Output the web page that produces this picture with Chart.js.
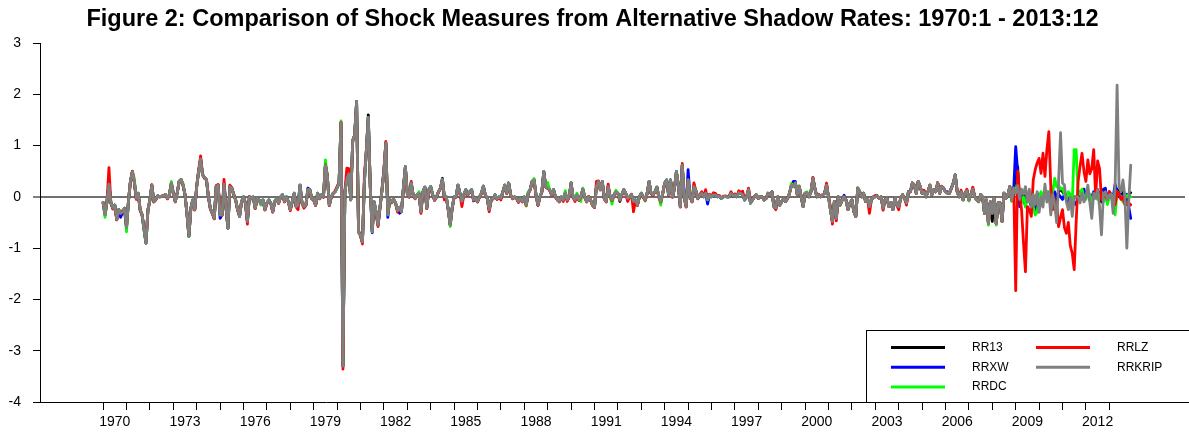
<!DOCTYPE html>
<html>
<head>
<meta charset="utf-8">
<script src="https://cdn.jsdelivr.net/npm/chart.js@4.4.1/dist/chart.umd.min.js"></script>
<style>
  html, body { margin: 0; padding: 0; background: #ffffff; }
  canvas { display: block; }
</style>
</head>
<body>
<canvas id="chart" width="1189" height="435"></canvas>
<script>
// Monthly shock measures, 1970:1 - 2013:12 (528 months each)
const FIRST_YEAR = 1970;
const LAST_YEAR = 2013;
const labelYears = [1970, 1973, 1976, 1979, 1982, 1985, 1988, 1991, 1994, 1997, 2000, 2003, 2006, 2009, 2012];
const yTicks = [-4, -3, -2, -1, 0, 1, 2, 3];

const RR13 = [
-0.11,-0.35,-0.09,0.25,-0.12,-0.22,-0.16,-0.44,-0.25,-0.32,-0.29,-0.22,
-0.6,-0.09,0.3,0.49,0.3,-0.03,0.07,-0.25,-0.35,-0.64,-0.9,-0.25,
-0.06,0.23,-0.09,-0.05,0.02,0,0.01,0.02,0.04,-0.03,0.04,0.27,0.07,
-0.09,0.07,0.3,0.34,0.23,0.04,-0.32,-0.77,-0.22,-0.06,-0.25,0.2,
0.5,0.74,0.43,0.38,0.33,0,-0.22,-0.32,-0.42,0.2,0.23,-0.35,
-0.35,0.25,-0.19,-0.61,0.2,0.17,0.04,-0.06,-0.25,-0.38,-0.09,0,
-0.12,-0.48,0,-0.03,0,-0.22,-0.03,-0.06,-0.14,-0.06,-0.25,-0.12,
-0.06,-0.12,-0.29,-0.09,-0.03,-0.12,0,0.04,-0.09,0,-0.09,-0.25,
-0.09,0.07,-0.19,-0.16,0.23,-0.12,-0.19,-0.16,0.14,0.14,-0.03,-0.06,
-0.16,0.07,-0.03,0.04,0,0.62,0.4,-0.16,0,0.07,0.1,0.18,
0.27,1.44,-3.3,0.1,0.35,0.45,-0.06,1.1,1.2,1.86,-0.68,-0.75,
-0.88,0.3,0.9,1.6,0.2,-0.68,-0.1,-0.3,-0.55,-0.2,0.12,0.5,
1.05,-0.35,-0.05,-0.1,-0.05,-0.12,-0.27,-0.2,-0.29,0.17,0.59,0.07,
0,0.27,0.04,-0.03,0.04,0.07,-0.29,0.1,0.19,-0.22,0.14,0.2,
0.04,-0.06,0,0.1,0.17,0.36,0,0,-0.25,-0.55,-0.22,0,
0,0.23,0.07,-0.09,0.04,0.14,0.04,0.1,0.14,-0.06,-0.03,-0.09,
0,0.07,0.21,0.04,-0.03,-0.25,-0.06,-0.03,0.04,-0.04,0,-0.03,
0.1,0.23,0.07,0.27,0.04,-0.03,0,-0.03,-0.09,-0.03,-0.09,0,
-0.16,0.07,0.14,0.3,0.33,0.04,-0.16,0,0.1,0.49,0.2,0.17,
0.14,0.04,0.14,0,-0.06,-0.09,0,-0.06,0.08,-0.06,0,0.27,
0,-0.06,0.04,-0.06,0,0.15,0,-0.09,0,-0.06,-0.16,-0.2,
0.2,0.3,0.14,0.3,-0.03,-0.09,0.2,0,-0.06,0.04,0.1,0.07,
-0.09,0.04,0.14,0.07,-0.03,0,0.04,-0.09,-0.06,-0.16,0,0.07,
0,-0.06,0.07,0.3,0.07,0.04,0.1,0.19,0,-0.09,0.07,0.27,
0.33,0.04,0.33,0,0.17,0.49,0.23,-0.19,0.62,0,-0.19,0.33,
0,-0.09,0.2,0.12,-0.03,0.04,0.07,0,0.07,-0.06,0.04,0,
0.04,0.04,0,0.02,-0.03,0,0.01,0,0,0.07,0.02,0.04,0,
0.08,0.07,0.04,-0.06,0,0.14,-0.12,-0.06,0,0.04,-0.03,0,
0,-0.06,-0.03,0.07,0.04,0.1,-0.19,-0.22,0,-0.16,-0.09,-0.03,
-0.09,-0.03,0.07,0.23,0.2,0.27,0.04,0.2,0,-0.19,0.07,0.07,
0,0.1,0.36,0.17,0,0.04,0,0.04,0.07,0.23,0,-0.25,
-0.48,-0.09,-0.42,0,-0.16,-0.06,0,-0.06,-0.25,-0.12,-0.06,-0.29,
-0.38,0.17,0.1,0,0.07,-0.09,-0.03,-0.19,-0.06,0,0,0.02,
-0.03,0,-0.22,-0.06,-0.03,-0.19,-0.12,-0.25,-0.03,-0.16,-0.19,-0.03,
0.04,-0.03,-0.12,0.1,0.1,0.27,0.23,0.07,0.3,0.2,0.07,0.1,
0,0.1,0.23,0.04,0.14,0.1,0.27,0.07,0.2,0.17,0.1,0.07,
0.07,0.17,0.27,0.43,0.1,0,0.1,-0.06,0.07,0.12,-0.06,0.04,
0.15,0,-0.06,-0.09,0.04,0,-0.32,-0.06,-0.51,-0.1,-0.48,-0.02,
-0.52,-0.12,-0.12,-0.48,0.07,-0.03,0.04,0.2,-0.06,0.17,0.3,0.59,
-0.1,0.1,0,0.1,-0.05,0.05,-0.1,0,-0.1,0.05,-0.1,0,
-0.05,0.1,0,0.05,-0.1,0,-0.05,-0.1,0.1,0.15,0.1,0.05,
-0.05,-0.1,0,-0.15,0,0,0,-0.05,0.05,-0.05,0,0.1,
-0.05,-0.15,0.05,0,0.14,0,-0.1,0.05,0.05,-0.05,0.05,0.05,
-0.1,0.1,0.15,0.1,0.05,0.1,0.03,-0.15,0.05,0.08
];

const RRXW = [
-0.11,-0.35,-0.09,0.25,-0.12,-0.22,-0.16,-0.44,-0.25,-0.4,-0.29,-0.22,
-0.6,-0.09,0.3,0.49,0.3,-0.03,0.07,-0.25,-0.35,-0.64,-0.9,-0.25,
-0.06,0.23,-0.09,-0.05,0.02,0,0.01,0.02,0.04,-0.03,0.04,0.27,0.07,
-0.09,0.07,0.3,0.34,0.23,0.04,-0.32,-0.77,-0.22,-0.06,-0.25,0.2,
0.5,0.74,0.43,0.38,0.33,0,-0.22,-0.32,-0.42,0.2,0.23,-0.42,
-0.35,0.25,-0.19,-0.61,0.2,0.17,0.04,-0.06,-0.25,-0.38,-0.09,0,
-0.12,-0.48,0,-0.03,0,-0.22,-0.03,-0.06,-0.14,-0.06,-0.25,-0.12,
-0.06,-0.12,-0.29,-0.09,-0.03,-0.12,0,0.04,-0.09,0,-0.09,-0.25,
-0.09,0.07,-0.19,-0.16,0.23,-0.12,-0.19,-0.16,0.17,0.14,-0.03,-0.06,
-0.16,0.07,-0.03,0.04,0,0.62,0.4,-0.16,0,0.07,0.1,0.18,
0.27,1.44,-3.3,0.1,0.35,0.45,-0.06,1.1,1.2,1.86,-0.68,-0.75,
-0.88,0.3,0.9,1.55,0.2,-0.7,-0.1,-0.3,-0.55,-0.2,0.12,0.5,
1.05,-0.4,-0.05,-0.1,-0.05,-0.12,-0.27,-0.32,-0.29,0.17,0.59,0.07,
0,0.27,0.04,-0.03,0.04,0.07,-0.29,0.1,0.19,-0.22,0.14,0.2,
0.04,-0.06,0,0.1,0.17,0.34,0,0,-0.25,-0.55,-0.22,0,
0,0.23,0.07,-0.09,0.04,0.14,0.04,0.1,0.14,-0.08,-0.03,-0.09,
0,0.07,0.21,0.04,-0.03,-0.25,-0.06,-0.03,0.04,-0.04,0,-0.03,
0.1,0.23,0.07,0.27,0.04,-0.03,0,-0.03,-0.09,-0.03,-0.09,0,
-0.16,0.07,0.14,0.3,0.33,0.04,-0.16,0,0.1,0.49,0.2,0.17,
0.14,0.04,0.14,0,-0.06,-0.09,0,-0.06,0.08,-0.06,0,0.27,
0,-0.06,0.04,-0.06,0,0.15,0,-0.09,0,-0.06,-0.16,-0.2,
0.2,0.3,0.14,0.3,-0.03,-0.09,0.2,0,-0.06,0.04,0.1,0.07,
-0.06,0.04,0.14,0.07,-0.03,0,0.04,-0.09,-0.06,-0.16,0,0.07,
0,-0.06,0.07,0.3,0.07,0.04,0.1,0.19,0,-0.09,0.07,0.27,
0.33,0.04,0.33,0,0.17,0.49,0.23,-0.19,0.62,0,-0.19,0.53,
0,-0.09,0.2,0.12,-0.03,0.04,0.07,0,0.07,-0.14,0.04,0,
0.04,0.04,0,0.02,-0.03,0,0.01,0,0,0.07,0.02,0.04,0,
0.08,0.07,0.04,-0.06,0,0.14,-0.12,-0.06,0,0.04,-0.03,0,
0,-0.06,-0.03,0.07,0.04,0.1,-0.19,-0.22,0,-0.16,-0.09,-0.03,
-0.09,-0.03,0.07,0.23,0.3,0.3,0.04,0.2,0,-0.19,0.07,0.07,
0,0.1,0.36,0.17,0,0.04,0,0.04,0.07,0.23,0,-0.25,
-0.48,-0.09,-0.42,0,-0.16,-0.06,0.03,-0.06,-0.25,-0.12,-0.06,-0.29,
-0.38,0.17,0.1,0,0.07,-0.09,-0.03,-0.19,-0.06,0,0,0.02,
-0.03,0,-0.22,-0.06,-0.03,-0.19,-0.12,-0.25,-0.03,-0.16,-0.19,-0.03,
0.04,-0.03,-0.12,0.1,0.1,0.27,0.23,0.07,0.3,0.2,0.07,0.1,
0,0.1,0.23,0.04,0.14,0.1,0.27,0.07,0.2,0.17,0.1,0.1,
0.07,0.17,0.27,0.43,0.1,0,0.1,-0.06,0.07,0.12,-0.06,0.04,
0.15,0,-0.06,-0.09,0.04,0,-0.32,-0.06,-0.51,-0.1,-0.32,-0.02,
-0.52,-0.12,-0.12,-0.48,0.07,-0.03,0.04,0.2,-0.06,0.17,0.98,0.5,
-0.19,0,-0.1,-0.15,0.05,-0.05,-0.2,0,-0.25,-0.05,0.05,-0.1,
0,0.05,0.1,0,-0.05,0,0.1,0,0.05,0,-0.05,0.05,
0,-0.1,-0.05,-0.1,-0.1,-0.15,0,0.1,0.05,0.15,0,0.05,
-0.05,0,0.1,0,0.1,0.05,0,0.15,0.17,-0.1,0.1,0.05,
0,0.25,0.1,0,0.05,-0.05,0,0.05,-0.2,-0.42
];

const RRDC = [
-0.11,-0.4,-0.09,0.25,-0.12,-0.22,-0.16,-0.44,-0.25,-0.32,-0.29,-0.22,
-0.68,-0.09,0.3,0.49,0.36,-0.03,0.07,-0.25,-0.35,-0.64,-0.9,-0.25,
-0.06,0.23,-0.09,-0.05,0.02,0,0.01,0.02,0.04,-0.03,0.04,0.3,0.07,
-0.09,0.07,0.3,0.34,0.26,0.04,-0.32,-0.77,-0.22,-0.06,-0.25,0.2,
0.5,0.74,0.43,0.38,0.33,0,-0.22,-0.32,-0.42,0.2,0.23,-0.35,
-0.35,0.25,-0.19,-0.61,0.2,0.17,0.04,-0.06,-0.25,-0.38,-0.09,0,
-0.12,-0.48,0,-0.03,0,-0.22,-0.03,-0.06,-0.16,-0.06,-0.25,-0.12,
-0.06,-0.12,-0.29,-0.09,-0.03,-0.12,0,0.04,-0.09,0,-0.09,-0.25,
-0.09,0.07,-0.19,-0.16,0.23,-0.12,-0.19,-0.16,0.14,0.14,-0.03,-0.06,
-0.16,0.07,-0.03,0.04,0,0.72,0.4,-0.16,0,0.07,0.1,0.18,
0.27,1.48,-3.3,0.1,0.35,0.45,-0.06,1.1,1.2,1.86,-0.7,-0.75,
-0.88,0.3,0.9,1.55,0.2,-0.68,-0.1,-0.3,-0.55,-0.2,0.12,0.5,
1.05,-0.35,-0.05,-0.12,-0.05,-0.12,-0.27,-0.2,-0.29,0.17,0.59,0.07,
0,0.27,0.04,-0.03,0.04,0.1,-0.29,0.1,0.19,-0.22,0.14,0.2,
0.04,-0.06,0,0.1,0.17,0.34,0,0,-0.25,-0.58,-0.22,0,
0,0.23,0.07,-0.09,0.04,0.14,0.04,0.1,0.14,-0.06,-0.03,-0.1,
0,0.07,0.21,0.04,-0.03,-0.25,-0.06,-0.03,0.04,-0.04,0,-0.03,
0.1,0.23,0.07,0.27,0.04,-0.03,0,-0.03,-0.09,-0.03,-0.09,0,
-0.18,0.1,0.14,0.3,0.36,0.04,-0.16,0,0.1,0.49,0.2,0.28,
0.14,0.04,0.14,0,-0.06,-0.09,0,-0.06,0.12,-0.06,0,0.27,
0,-0.06,0.07,-0.06,-0.09,0.17,0,-0.09,0,-0.06,-0.16,-0.2,
0.2,0.3,0.14,0.3,-0.03,-0.09,0.2,0,-0.14,0.04,0.13,0.07,
-0.06,0.04,0.14,0.07,-0.03,0,0.04,-0.09,-0.06,-0.16,0,0.07,
0,-0.08,0.07,0.3,0.07,0.06,0.1,0.19,0,-0.16,0.07,0.27,
0.33,0.04,0.33,0,0.17,0.49,0.23,-0.19,0.62,0,-0.19,0.33,
0,-0.09,0.25,0.12,-0.03,0.04,0.07,0,0.07,-0.06,0.04,0,
0.04,0.04,0,0.02,-0.03,0,0.01,0,0,0.07,0.04,0.04,0,
0.08,0.07,0.04,-0.06,0,0.14,-0.12,-0.06,0,0.04,-0.03,0,
0,-0.06,-0.03,0.07,0.04,0.1,-0.19,-0.22,0,-0.16,-0.09,-0.03,
-0.09,-0.03,0.07,0.26,0.2,0.27,0.04,0.22,0,-0.19,0.07,0.1,
0,0.1,0.36,0.17,0,0.04,0,0.04,0.07,0.23,0,-0.25,
-0.48,-0.09,-0.42,0,-0.16,-0.06,0,-0.09,-0.25,-0.12,-0.06,-0.29,
-0.38,0.18,0.1,0,0.07,-0.09,-0.03,-0.19,-0.06,0,0,0.02,
-0.03,0,-0.22,-0.06,-0.03,-0.19,-0.12,-0.25,-0.03,-0.16,-0.19,-0.03,
0.04,-0.03,-0.12,0.1,0.1,0.27,0.23,0.07,0.3,0.2,0.07,0.1,
0,0.1,0.23,0.04,0.14,0.1,0.27,0.07,0.2,0.17,0.1,0.07,
0.07,0.17,0.27,0.43,0.1,0,0.1,-0.06,0.07,0.12,-0.08,0.04,
0.15,0,-0.06,-0.1,0.04,0,-0.32,-0.06,-0.55,-0.1,-0.32,-0.02,
-0.55,-0.12,-0.12,-0.48,0.07,-0.03,0.04,0.2,-0.09,0.17,0.1,0.3,
0,-0.1,0,-0.2,0,-0.1,0.05,-0.2,-0.35,-0.3,0,0.1,
0,0.05,0.1,0,0.15,0.1,0.36,0.2,0.23,0.15,0.17,0.05,
-0.05,0.1,0.05,-0.1,0.92,0.92,0.1,0.05,0.15,0,-0.05,0.1,
0.05,-0.1,0,0.05,-0.05,0,0.1,-0.1,0.05,-0.15,0,0.05,
-0.1,-0.35,0.1,0.05,0,-0.1,0.05,0,0.05,0
];

const RRLZ = [
-0.12,-0.33,-0.08,0.57,-0.12,-0.24,-0.18,-0.45,-0.26,-0.3,-0.27,-0.3,
-0.58,-0.08,0.28,0.5,0.28,-0.05,0.06,-0.27,-0.36,-0.6,-0.88,-0.26,
-0.07,0.24,-0.1,-0.06,0.01,0,0.01,0.03,0.04,-0.04,0.05,0.26,0.08,
-0.1,0.08,0.3,0.33,0.22,0.05,-0.33,-0.75,-0.24,-0.07,-0.26,0.22,
0.52,0.8,0.45,0.36,0.34,0.01,-0.24,-0.33,-0.43,0.22,0.24,-0.33,
-0.36,0.34,-0.2,-0.6,0.23,0.18,0.05,-0.07,-0.27,-0.37,-0.1,-0.01,
-0.13,-0.53,0.01,-0.04,-0.01,-0.23,-0.04,-0.07,-0.13,-0.07,-0.26,-0.13,
-0.07,-0.13,-0.3,-0.1,-0.04,-0.13,-0.01,0.03,-0.1,-0.01,-0.1,-0.27,
-0.1,0.06,-0.2,-0.25,0.21,-0.13,-0.22,-0.17,0.13,0.13,-0.04,-0.07,
-0.17,0.06,-0.04,0.03,-0.01,0.63,0.41,-0.17,-0.01,0.06,0.12,0.2,
0.28,1.45,-3.36,0.12,0.56,0.55,-0.05,1.08,1.2,1.84,-0.66,-0.76,
-0.92,0.43,0.88,1.52,0.22,-0.66,-0.12,-0.32,-0.58,-0.22,0.14,0.52,
1.08,-0.33,-0.06,-0.11,-0.06,-0.13,-0.3,-0.21,-0.28,0.16,0.57,0.06,
-0.01,0.3,0.03,-0.04,0.03,0.06,-0.32,0.09,0.18,-0.23,0.13,0.19,
0.03,-0.07,-0.01,0.09,0.16,0.33,-0.06,-0.01,-0.26,-0.54,-0.23,-0.01,
-0.01,0.22,0.06,-0.19,0.03,0.13,0.03,0.09,0.13,-0.07,-0.04,-0.1,
-0.01,0.06,0.2,0.03,-0.04,-0.29,-0.07,-0.04,0.03,-0.05,-0.01,-0.06,
0.09,0.22,0.06,0.26,0.03,-0.04,-0.01,-0.04,-0.11,-0.04,-0.1,-0.01,
-0.17,0.06,0.13,0.29,0.32,0.03,-0.17,-0.01,0.09,0.48,0.19,0.16,
0.13,0.03,0.13,-0.01,-0.06,-0.1,-0.01,-0.09,0.07,-0.09,-0.01,0.26,
-0.01,-0.09,0.03,-0.07,-0.01,0.14,-0.01,-0.1,0.01,-0.07,-0.17,-0.21,
0.3,0.31,0.13,0.29,-0.04,-0.1,0.25,-0.01,-0.07,0.03,0.09,0.06,
-0.07,0.03,0.13,0.06,-0.09,-0.01,0.05,-0.29,-0.07,-0.17,-0.01,0.06,
-0.01,-0.07,0.06,0.29,0.06,0.03,0.09,0.18,-0.01,-0.1,0.06,0.26,
0.32,0.03,0.32,-0.01,0.16,0.48,0.22,-0.2,0.65,-0.01,-0.2,0.32,
-0.01,-0.1,0.27,0.11,-0.04,0.05,0.1,0.01,0.14,-0.05,0.05,0.01,
0.08,0.07,0.01,0.03,-0.02,0.01,0.02,0.01,0.01,0.1,0.03,0.06,0.01,
0.12,0.08,0.11,-0.05,0.01,0.17,-0.11,-0.05,0.01,0.03,-0.03,0,
0,-0.06,-0.03,0.07,0.04,0.1,-0.19,-0.25,0,-0.16,-0.09,-0.03,
-0.09,-0.03,0.07,0.23,0.2,0.27,0.04,0.2,0,-0.19,0.07,0.07,
0,0.1,0.38,0.17,0,0.05,0,0.04,0.07,0.27,0,-0.19,
-0.53,-0.09,-0.47,0,-0.16,-0.06,0,-0.06,-0.25,-0.12,-0.06,-0.29,
-0.38,0.17,0.1,0,0.07,-0.09,-0.03,-0.32,-0.06,0,0.03,0.02,
-0.03,0,-0.26,-0.06,-0.03,-0.19,-0.12,-0.25,-0.03,-0.16,-0.25,-0.03,
0.04,-0.03,-0.16,0.1,0.1,0.27,0.23,0.07,0.3,0.2,0.07,0.13,
0,0.1,0.23,0.04,0.14,0.1,0.28,0.07,0.21,0.17,0.1,0.07,
0.07,0.17,0.27,0.43,0.1,0,0.13,-0.06,0.07,0.15,-0.06,0.04,
0.19,0,-0.06,-0.09,0.04,0,-0.32,-0.06,-0.51,-0.1,-0.32,-0.02,
-0.52,-0.12,-0.12,-0.48,0.07,-0.03,0.04,0.2,-0.06,0.17,-1.83,0.5,
0.07,-0.25,-0.9,-1.46,-0.19,-0.25,-0.38,0.33,0.53,0.66,0.75,0.46,
0.85,0.4,0.92,1.27,0.2,-0.25,-0.06,-0.12,-0.58,-0.4,-0.25,-0.6,
-0.71,-0.5,-0.95,-1.1,-1.42,-0.5,0.3,0.6,0.85,0.5,0.3,0.72,
0.45,0.55,0.92,0,0.7,0.55,-0.05,0,0,-0.05,0.1,0,
-0.1,-0.15,0.1,0.05,-0.05,0,-0.15,-0.1,-0.12,-0.16
];

const RRKRIP = [
-0.11,-0.35,-0.09,0.25,-0.12,-0.22,-0.16,-0.44,-0.25,-0.32,-0.29,-0.22,
-0.6,-0.09,0.3,0.49,0.3,-0.03,0.07,-0.25,-0.35,-0.64,-0.9,-0.25,
-0.06,0.23,-0.09,-0.05,0.02,0,0.01,0.02,0.04,-0.03,0.04,0.27,0.07,
-0.09,0.07,0.3,0.34,0.23,0.04,-0.32,-0.77,-0.22,-0.06,-0.25,0.2,
0.5,0.74,0.43,0.38,0.33,0,-0.22,-0.32,-0.42,0.2,0.23,-0.35,
-0.35,0.25,-0.19,-0.61,0.2,0.17,0.04,-0.06,-0.25,-0.38,-0.09,0,
-0.12,-0.48,0,-0.03,0,-0.22,-0.03,-0.06,-0.14,-0.06,-0.25,-0.12,
-0.06,-0.12,-0.29,-0.09,-0.03,-0.12,0,0.04,-0.09,0,-0.09,-0.25,
-0.09,0.07,-0.19,-0.16,0.23,-0.12,-0.19,-0.16,0.14,0.14,-0.03,-0.06,
-0.16,0.07,-0.03,0.04,0,0.62,0.4,-0.16,0,0.07,0.1,0.18,
0.27,1.44,-3.3,0.1,0.35,0.45,-0.06,1.1,1.2,1.86,-0.68,-0.75,
-0.88,0.3,0.9,1.55,0.2,-0.68,-0.1,-0.3,-0.55,-0.2,0.12,0.5,
1.05,-0.35,-0.05,-0.1,-0.05,-0.12,-0.27,-0.2,-0.29,0.17,0.59,0.07,
0,0.27,0.04,-0.03,0.04,0.07,-0.29,0.1,0.19,-0.22,0.14,0.2,
0.04,-0.06,0,0.1,0.17,0.34,0,0,-0.25,-0.55,-0.22,0,
0,0.23,0.07,-0.09,0.04,0.14,0.04,0.1,0.14,-0.06,-0.03,-0.09,
0,0.07,0.21,0.04,-0.03,-0.25,-0.06,-0.03,0.04,-0.04,0,-0.03,
0.1,0.23,0.07,0.27,0.04,-0.03,0,-0.03,-0.09,-0.03,-0.09,0,
-0.16,0.07,0.14,0.3,0.33,0.04,-0.16,0,0.1,0.49,0.2,0.17,
0.14,0.04,0.14,0,-0.06,-0.09,0,-0.06,0.08,-0.06,0,0.27,
0,-0.06,0.04,-0.06,0,0.15,0,-0.09,0,-0.06,-0.16,-0.2,
0.2,0.3,0.14,0.3,-0.03,-0.09,0.2,0,-0.06,0.04,0.1,0.07,
-0.06,0.04,0.14,0.07,-0.03,0,0.04,-0.09,-0.06,-0.16,0,0.07,
0,-0.06,0.07,0.3,0.07,0.04,0.1,0.19,0,-0.09,0.07,0.27,
0.33,0.04,0.33,0,0.17,0.49,0.23,-0.19,0.62,0,-0.19,0.33,
0,-0.09,0.2,0.12,-0.03,0.04,0.07,0,0.07,-0.06,0.04,0,
0.04,0.04,0,0.02,-0.03,0,0.01,0,0,0.07,0.02,0.04,0,
0.08,0.07,0.04,-0.06,0,0.14,-0.12,-0.06,0,0.04,-0.03,0,
0,-0.06,-0.03,0.07,0.04,0.1,-0.19,-0.22,0,-0.16,-0.09,-0.03,
-0.09,-0.03,0.07,0.23,0.2,0.27,0.04,0.2,0,-0.19,0.07,0.07,
0,0.1,0.36,0.17,0,0.04,0,0.04,0.07,0.23,0,-0.25,
-0.48,-0.09,-0.42,0,-0.16,-0.06,0,-0.06,-0.25,-0.12,-0.06,-0.29,
-0.38,0.17,0.1,0,0.07,-0.09,-0.03,-0.19,-0.06,0,0,0.02,
-0.03,0,-0.22,-0.06,-0.03,-0.19,-0.12,-0.25,-0.03,-0.16,-0.19,-0.03,
0.04,-0.03,-0.12,0.1,0.1,0.27,0.23,0.07,0.3,0.2,0.07,0.1,
0,0.1,0.23,0.04,0.14,0.1,0.27,0.07,0.2,0.17,0.1,0.07,
0.07,0.17,0.27,0.43,0.1,0,0.1,-0.06,0.07,0.12,-0.06,0.04,
0.15,0,-0.06,-0.09,0.04,0,-0.32,-0.06,-0.51,-0.1,-0.32,-0.02,
-0.52,-0.12,-0.12,-0.48,0.07,-0.03,0.04,0.2,-0.06,0.17,0.07,0.22,
-0.05,0.15,0.05,0.2,-0.1,0.15,-0.2,0.05,-0.15,0.1,-0.3,0,
-0.2,0.25,-0.1,0.1,-0.35,0.05,-0.15,-0.5,0.3,1.25,0.27,0.23,
-0.1,-0.25,0,-0.38,0,0,0,-0.12,0.07,-0.1,0,0.23,
-0.1,-0.42,0.07,-0.03,0.14,-0.2,-0.74,0.07,0.1,-0.06,0.04,0.05,
-0.32,0.23,2.18,0.2,0.1,0.33,0,-1.0,-0.06,0.62
];

// Months counted from 1970:1
const monthIndex = RRKRIP.map((_, i) => i);
const toPoints = values => values.map((v, i) => ({ x: monthIndex[i], y: v }));

const seriesDefs = [
  { label: 'RRKRIP', data: RRKRIP, color: '#808080', order: 0 },
  { label: 'RRLZ',   data: RRLZ,   color: '#ff0000', order: 1 },
  { label: 'RRDC',   data: RRDC,   color: '#00ff00', order: 2 },
  { label: 'RRXW',   data: RRXW,   color: '#0000ff', order: 3 },
  { label: 'RR13',   data: RR13,   color: '#000000', order: 4 }
];

const FONT = "'Liberation Sans', Arial, Helvetica, sans-serif";

// Boxed two-column legend in the lower right corner
const boxLegend = {
  id: 'boxLegend',
  afterDraw(chart) {
    const { ctx, chartArea } = chart;
    const left = chartArea.right - 319;
    const top = chartArea.bottom - 72;
    ctx.save();
    ctx.fillStyle = '#ffffff';
    ctx.fillRect(left, top, 340, 72);
    ctx.strokeStyle = '#000000';
    ctx.lineWidth = 1;
    ctx.strokeRect(left + 0.5, top + 0.5, 340, 72);
    const columns = [['RR13', 'RRXW', 'RRDC'], ['RRLZ', 'RRKRIP']];
    ctx.font = '12px ' + FONT;
    ctx.textBaseline = 'middle';
    ctx.textAlign = 'left';
    columns.forEach((col, c) => {
      col.forEach((name, r) => {
        const ds = chart.data.datasets.find(d => d.label === name);
        const y = top + 17.5 + r * 19.7;
        const x0 = left + 25 + c * 145;
        ctx.strokeStyle = ds.borderColor;
        ctx.lineWidth = 3;
        ctx.beginPath();
        ctx.moveTo(x0, y);
        ctx.lineTo(x0 + 54, y);
        ctx.stroke();
        ctx.fillStyle = '#000000';
        ctx.fillText(name, x0 + 81, y);
      });
    });
    ctx.restore();
  }
};

new Chart(document.getElementById('chart'), {
  type: 'line',
  data: {
    datasets: seriesDefs.map(s => ({
      label: s.label,
      data: toPoints(s.data),
      borderColor: s.color,
      backgroundColor: s.color,
      borderWidth: 2.8,
      borderJoinStyle: 'round',
      borderCapStyle: 'round',
      pointRadius: 0,
      tension: 0,
      fill: false,
      order: s.order
    }))
  },
  options: {
    responsive: false,
    animation: false,
    devicePixelRatio: 1,
    parsing: false,
    layout: { padding: { left: 0, right: 4, top: 0, bottom: 0 } },
    plugins: {
      legend: { display: false },
      tooltip: { enabled: false },
      title: {
        display: true,
        text: 'Figure 2: Comparison of Shock Measures from Alternative Shadow Rates: 1970:1 - 2013:12',
        color: '#000000',
        font: { family: FONT, size: 23.5, weight: 'bold', lineHeight: 1.2 },
        padding: { top: 5, bottom: 9.8 }
      }
    },
    scales: {
      x: {
        type: 'linear',
        min: -32.36,
        max: 554.82,
        afterFit(scale) { scale.height = 33; },
        afterBuildTicks(scale) {
          const t = [];
          for (let y = FIRST_YEAR; y <= LAST_YEAR; y++) t.push({ value: (y - FIRST_YEAR) * 12 });
          scale.ticks = t;
        },
        grid: { drawOnChartArea: false, drawTicks: true, tickLength: 8, tickColor: '#000000', tickWidth: 1 },
        border: { display: true, color: '#000000', width: 1 },
        ticks: {
          autoSkip: false,
          maxRotation: 0,
          minRotation: 0,
          padding: 4,
          labelOffset: 11.7,
          color: '#000000',
          font: { family: FONT, size: 14 },
          callback(value) {
            const yr = FIRST_YEAR + Math.round(value / 12);
            return labelYears.includes(yr) ? String(yr) : '';
          }
        }
      },
      y: {
        type: 'linear',
        min: -4,
        max: 3,
        afterFit(scale) { scale.width = 40; },
        afterBuildTicks(scale) { scale.ticks = yTicks.map(v => ({ value: v })); },
        grid: {
          drawOnChartArea: true,
          drawTicks: true,
          tickLength: 7,
          tickColor: '#000000',
          tickWidth: 1,
          color: ctx => (ctx.tick && ctx.tick.value === 0) ? '#707070' : 'rgba(0,0,0,0)',
          lineWidth: ctx => (ctx.tick && ctx.tick.value === 0) ? 2 : 1
        },
        border: { display: true, color: '#000000', width: 1 },
        ticks: {
          padding: 12,
          color: '#000000',
          font: { family: FONT, size: 14 },
          callback: v => String(v)
        }
      }
    }
  },
  plugins: [boxLegend]
});
</script>
</body>
</html>
